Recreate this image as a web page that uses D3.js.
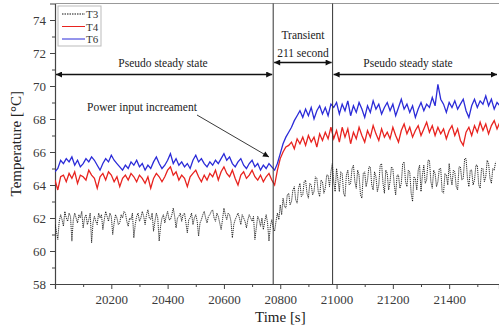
<!DOCTYPE html>
<html><head><meta charset="utf-8">
<script src="https://cdn.jsdelivr.net/npm/d3@7"></script>
<style>body{margin:0;background:#fff;} svg{display:block;font-family:"Liberation Serif","DejaVu Serif",serif;}</style>
</head><body><svg id="c" width="499" height="325"></svg>
<script>
// sampling grids
const tStart = 20000, tStep = 10, t3Step = 5;
const seriesNames = ["T3", "T4", "T6"];
const seriesColors = ["#111", "#e8231f", "#2b2bd8"];
const xTicks = [20200, 20400, 20600, 20800, 21000, 21200, 21400];
const yTicks = [58, 60, 62, 64, 66, 68, 70, 72, 74];
const phaseBounds = [20775, 20986];

const T6 = [
64.8,65.0,65.5,65.3,65.6,65.4,65.7,65.2,65.5,65.1,
65.3,65.6,65.4,65.7,65.5,65.2,64.9,65.3,65.6,65.4,
65.8,65.5,65.3,65.1,64.9,65.2,65.0,65.4,65.2,65.5,
65.1,65.3,64.9,65.2,65.0,65.4,65.7,65.3,65.0,65.2,
65.5,65.9,65.3,65.6,65.2,65.4,65.1,65.3,65.0,65.5,
65.8,65.4,65.6,65.3,65.1,65.4,65.2,65.5,65.3,65.6,
65.9,65.5,65.7,65.3,65.1,65.4,65.6,65.2,65.0,65.3,
65.5,65.1,65.3,64.9,65.2,65.0,65.3,65.1,
64.9,65.3,65.9,66.5,66.9,67.2,67.5,67.9,68.2,68.5,
68.1,68.6,68.2,68.7,68.0,68.5,68.8,68.3,68.7,68.2,68.9,
68.7,69.0,68.3,68.9,68.5,69.1,68.2,68.8,68.4,69.0,
68.6,68.1,68.8,68.4,69.1,68.6,68.9,68.3,68.7,69.0,
68.5,68.9,68.2,68.7,69.2,68.6,68.9,68.4,68.8,68.1,
68.6,69.0,68.5,68.9,68.7,69.3,68.8,70.1,69.2,68.9,
68.4,69.0,68.7,69.1,68.6,68.9,69.2,68.5,68.1,68.8,
69.2,68.7,69.1,68.9,69.4,68.8,69.2,68.6,69.0,68.8
];
const T4 = [
64.3,63.7,64.5,64.6,64.2,64.7,64.4,64.8,64.1,64.6,
64.5,64.3,64.9,64.6,64.4,63.8,64.5,64.7,64.3,64.8,
64.6,64.2,64.5,63.9,64.4,64.6,64.3,64.7,64.5,64.2,
64.6,64.4,64.1,64.5,63.8,64.4,64.7,64.5,64.2,64.5,
64.9,65.1,64.6,64.8,64.3,64.6,64.4,63.9,64.5,64.7,
64.9,64.5,64.2,64.6,64.3,64.7,64.5,64.9,64.3,64.8,
65.1,64.7,64.5,64.9,64.4,64.0,64.6,64.8,64.4,64.6,
64.9,64.5,64.3,64.6,64.2,64.5,64.7,64.3,
64.0,64.9,65.6,66.0,66.3,66.4,66.6,66.2,66.8,66.5,
66.9,66.4,67.0,66.6,66.9,66.3,67.1,66.7,67.2,66.8,67.5,
66.8,67.3,66.6,67.5,66.9,67.4,66.5,67.2,66.8,67.5,
67.0,66.6,67.3,66.9,67.6,67.1,66.7,67.4,66.9,67.2,
66.8,67.5,67.0,66.6,67.3,67.7,67.1,67.5,66.9,67.3,
67.6,67.0,67.4,67.8,67.2,67.6,67.0,67.5,67.1,67.4,
66.8,67.3,67.6,67.0,67.4,66.7,66.4,67.2,67.5,67.0,
67.6,67.2,67.8,67.3,67.7,67.1,67.6,67.9,67.4,67.8
];
const T3 = [
61.6,61.2,60.7,61.8,62.2,61.9,61.5,62.4,62.0,61.8,62.3,62.1,
60.6,61.9,62.3,62.0,61.7,62.2,62.0,62.4,61.4,62.0,62.2,61.6,
61.9,62.3,60.5,61.7,62.1,61.8,61.6,62.3,62.0,62.2,61.3,61.9,
62.4,62.1,61.8,62.3,62.1,61.0,61.7,62.2,62.0,61.6,61.7,62.2,
62.0,62.4,62.3,61.8,61.5,62.0,61.9,62.3,60.8,61.6,62.1,62.3,
61.8,62.0,62.4,62.1,61.6,62.2,62.5,62.0,61.9,62.3,61.2,61.8,
62.3,62.0,60.6,61.5,62.0,62.2,61.7,62.1,62.4,61.9,61.9,62.2,
62.6,62.1,61.4,62.0,62.1,62.3,61.8,62.2,62.3,61.7,61.1,61.9,
62.0,62.3,61.6,62.0,62.2,61.8,60.9,61.7,61.9,62.2,62.4,62.0,
61.7,62.1,62.2,62.4,62.5,62.0,61.8,62.3,62.1,61.7,61.3,61.9,
62.6,62.2,61.9,62.3,62.2,61.8,60.8,61.6,61.9,62.1,62.3,62.0,
61.6,62.2,62.0,61.8,61.4,61.9,62.2,62.0,61.8,62.1,60.7,61.4,
62.1,61.9,61.5,62.0,61.3,61.8,62.2,61.7,60.6,61.5,61.9,61.4,
61.2,61.8,62.3,61.9,62.8,62.2,63.2,62.7,62.6,63.4,63.5,62.8,
63.0,63.7,63.9,63.1,62.9,63.8,64.1,63.3,63.4,64.2,64.3,63.5,
63.2,64.1,64.0,63.4,63.6,64.5,64.4,63.6,63.3,64.3,64.2,63.5,
63.8,64.6,64.6,63.9,64.8,65.3,
64.2,63.6,65.0,64.3,63.6,64.8,64.7,63.5,63.3,64.6,64.9,64.0,
64.1,65.0,65.2,64.2,63.8,64.9,64.6,63.4,63.2,64.7,64.8,63.9,
64.3,65.1,65.1,64.0,63.7,64.8,64.5,63.6,64.0,65.2,65.3,64.1,
63.5,64.9,64.7,63.7,64.2,65.1,65.0,64.0,63.4,64.6,64.6,63.8,
64.1,65.3,65.4,64.2,63.9,64.9,64.8,63.5,63.0,64.5,64.4,63.7,
64.9,65.2,63.6,64.6,65.2,64.1,64.3,65.5,65.5,64.2,63.8,64.9,
64.7,63.9,64.2,65.0,65.0,63.6,63.5,64.7,64.6,64.0,65.3,64.5,
64.0,64.9,64.8,63.9,63.7,65.1,65.1,64.3,64.4,65.6,65.6,64.4,
63.9,64.9,64.9,64.0,64.3,65.2,65.2,64.0,63.8,65.0,65.0,64.2,
64.5,65.5,65.3,64.4,64.1,65.0,64.9,65.4
];

const svg = d3.select("#c");
const L = 55, R = 499, T = 3.5, B = 284;
const x = d3.scaleLinear().domain([20000, 21577]).range([L, R]);
const y = d3.scaleLinear().domain([58, 75]).range([B, T]);

svg.append("defs").append("clipPath").attr("id","clip")
  .append("rect").attr("x",L).attr("y",T).attr("width",R-L).attr("height",B-T);

// axes
const axisColor = "#444";
const xAxis = svg.append("g").attr("transform",`translate(0,${B})`)
  .call(d3.axisBottom(x).tickValues(xTicks).tickSize(5).tickPadding(6).tickFormat(d3.format("d")));
const xMinor = svg.append("g").attr("transform",`translate(0,${B})`)
  .call(d3.axisBottom(x).tickValues(d3.range(20100, 21600, 200)).tickSize(3).tickFormat(""));
const yAxis = svg.append("g").attr("transform",`translate(${L},0)`)
  .call(d3.axisLeft(y).tickValues(yTicks).tickSize(5).tickPadding(4));
const yMinor = svg.append("g").attr("transform",`translate(${L},0)`)
  .call(d3.axisLeft(y).tickValues(d3.range(59, 75, 2)).tickSize(3).tickFormat(""));
[xAxis,xMinor,yAxis,yMinor].forEach(g=>{
  g.selectAll("path").attr("stroke",axisColor).attr("stroke-width",1.2);
  g.selectAll("line").attr("stroke",axisColor).attr("stroke-width",1);
  g.selectAll("text").attr("fill","#3a3a3a").attr("font-size",13).attr("font-family","Liberation Serif");
});
xMinor.select("path").remove(); yMinor.select("path").remove();
// top frame
svg.append("line").attr("x1",L).attr("x2",R).attr("y1",T).attr("y2",T).attr("stroke","#999").attr("stroke-width",1.2);

// axis titles
svg.append("text").attr("x",255).attr("y",322).attr("font-size",15).attr("fill","#222").text("Time [s]");
svg.append("text").attr("transform",`translate(21,${(T+B)/2}) rotate(-90)`).attr("text-anchor","middle")
  .attr("font-size",15).attr("fill","#222").text("Temperature [°C]");

// data lines
const plot = svg.append("g").attr("clip-path","url(#clip)");
const lineT3 = d3.line().x((d,i)=>x(tStart+i*t3Step)).y(d=>y(d));
const lineT = d3.line().x((d,i)=>x(tStart+i*tStep)).y(d=>y(d));
plot.append("path").datum(T3).attr("d",lineT3).attr("fill","none")
  .attr("stroke",seriesColors[0]).attr("stroke-width",0.9).attr("stroke-dasharray","1.2,0.9");
plot.append("path").datum(T4).attr("d",lineT).attr("fill","none")
  .attr("stroke",seriesColors[1]).attr("stroke-width",1.3);
plot.append("path").datum(T6).attr("d",lineT).attr("fill","none")
  .attr("stroke",seriesColors[2]).attr("stroke-width",1.3);

// phase boundaries
phaseBounds.forEach(v=>{
  svg.append("line").attr("x1",x(v)).attr("x2",x(v)).attr("y1",T).attr("y2",B)
    .attr("stroke","#333").attr("stroke-width",1);
});

// arrow markers
const defs = svg.select("defs");
defs.append("marker").attr("id","ah").attr("viewBox","0 0 10 10").attr("refX",10).attr("refY",5)
  .attr("markerWidth",8).attr("markerHeight",6).attr("markerUnits","userSpaceOnUse").attr("orient","auto-start-reverse")
  .append("path").attr("d","M0,0L10,5L0,10Z").attr("fill","#111");
function dbl(x1,x2,yy){
  svg.append("line").attr("x1",x1).attr("x2",x2).attr("y1",yy).attr("y2",yy)
    .attr("stroke","#111").attr("stroke-width",1.3)
    .attr("marker-start","url(#ah)").attr("marker-end","url(#ah)");
}
dbl(L+1, x(phaseBounds[0])-1, 74.5);
dbl(x(phaseBounds[0])+1, x(phaseBounds[1])-1, 62.5);
dbl(x(phaseBounds[1])+1, R-2, 74.5);

const ann = (tx,ty,s,anchor)=>svg.append("text").attr("x",tx).attr("y",ty).attr("font-size",11.5)
  .attr("fill","#222").attr("text-anchor",anchor||"middle").text(s);
ann(163,67,"Pseudo steady state");
ann(408,67,"Pseudo steady state");
ann(303,39,"Transient");
ann(303,57,"211 second");
ann(87,111,"Power input increament","start");

svg.append("line").attr("x1",197).attr("y1",115).attr("x2",269).attr("y2",157)
  .attr("stroke","#222").attr("stroke-width",0.9).attr("marker-end","url(#ah)");

// legend
const lg = svg.append("g");
lg.append("rect").attr("x",58).attr("y",6).attr("width",43).attr("height",40)
  .attr("fill","#fff").attr("stroke","#bbb").attr("stroke-width",1);
seriesNames.forEach((n,k)=>{
  const yy = 14 + k*12.5;
  lg.append("line").attr("x1",62).attr("x2",85).attr("y1",yy).attr("y2",yy)
    .attr("stroke",seriesColors[k]).attr("stroke-width",1)
    .attr("stroke-dasharray",k===0?"1.5,1":null);
  lg.append("text").attr("x",86).attr("y",yy+4).attr("font-size",11).attr("fill","#333").text(n);
});
</script></body></html>
